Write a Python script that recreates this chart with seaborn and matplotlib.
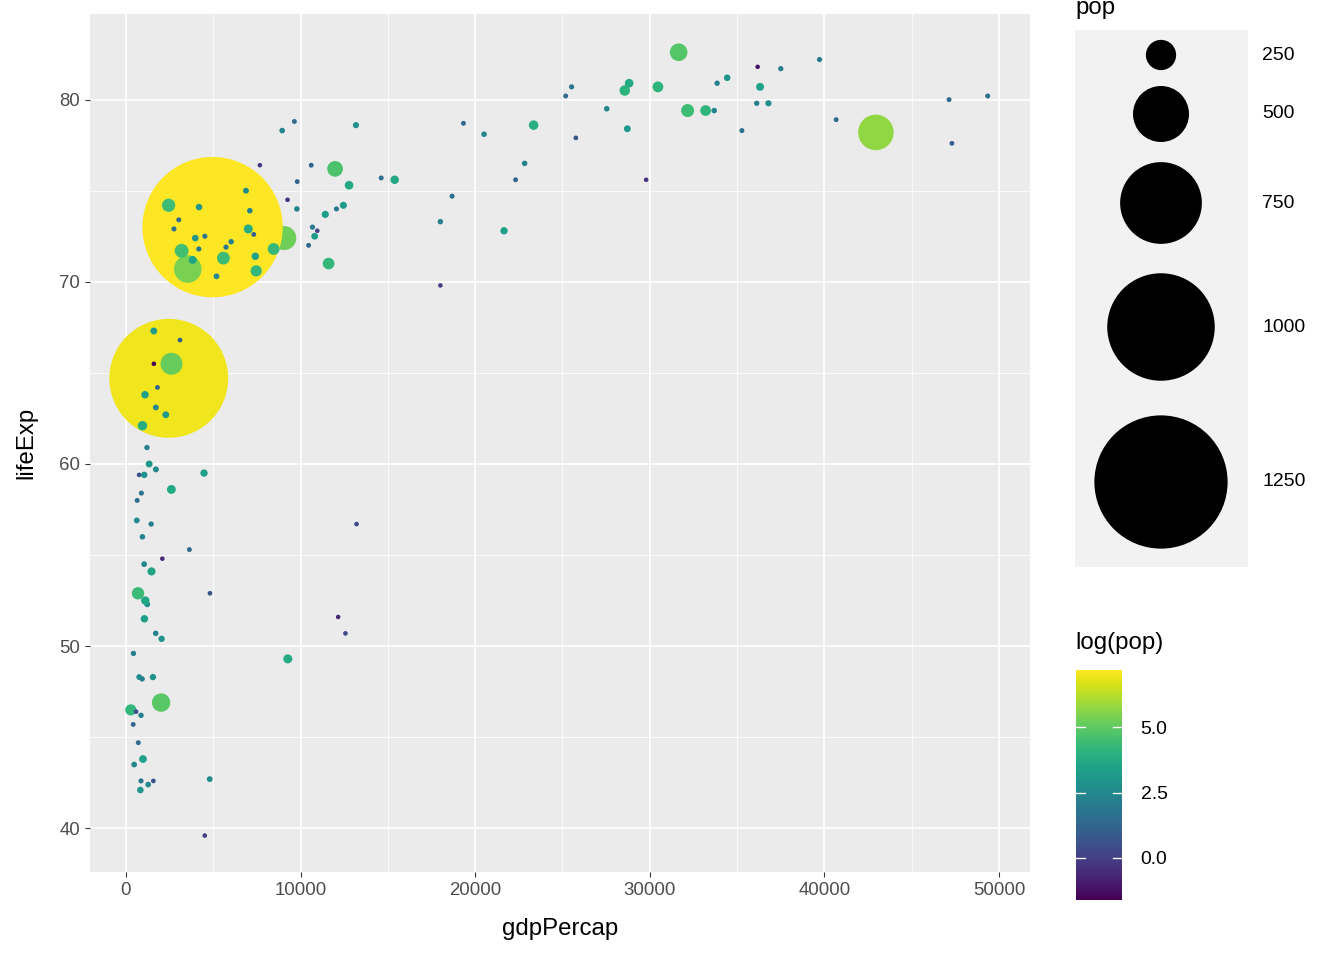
import numpy as np
import matplotlib
matplotlib.use('Agg')
import matplotlib.pyplot as plt
import seaborn as sns

plt.rcParams['font.family'] = ['Liberation Sans', 'DejaVu Sans']

# gapminder 2007: gdpPercap, lifeExp, pop (millions)
gdp = [974.6, 5937, 6223, 4797, 12779, 34435, 36126, 29796, 1391, 33693, 1441, 3822, 7446, 12570, 9066,
       10681, 1217, 430, 1714, 2042, 36319, 706, 1704, 13172, 4959, 7007, 986, 278, 3633, 9645, 1545,
       14619, 8948, 22833, 35278, 2082, 6025, 6873, 5581, 5728, 12154, 641, 691, 33207, 30470, 13206,
       753, 32170, 1328, 27538, 5186, 943, 579, 1202, 3548, 39725, 18009, 36181, 2452, 3541, 11606,
       4471, 40676, 25523, 28570, 7321, 31656, 4519, 1463, 1593, 23348, 47307, 10461, 1569, 415, 12057,
       1044, 759, 12452, 1042, 1803, 10957, 11978, 3096, 9254, 3820, 824, 944, 4811, 1091, 36798, 25185,
       2749, 620, 2014, 49357, 22316, 2606, 9809, 4173, 7409, 3190, 15390, 20510, 19329, 7670, 10808,
       863, 1598, 21655, 1712, 9787, 863, 47143, 18678, 25768, 926, 9270, 28821, 3970, 2602, 4513,
       33860, 37506, 4185, 28718, 1107, 7458, 883, 18009, 7093, 8458, 1056, 33203, 42952, 10611, 11416,
       2442, 3025, 2281, 1271, 470]
life = [43.8, 76.4, 72.3, 42.7, 75.3, 81.2, 79.8, 75.6, 64.1, 79.4, 56.7, 65.6, 74.9, 50.7, 72.4,
        73.0, 52.3, 49.6, 59.7, 50.4, 80.7, 44.7, 50.7, 78.6, 73.0, 72.9, 65.2, 46.5, 55.3, 78.8, 48.3,
        75.7, 78.3, 76.5, 78.3, 54.8, 72.2, 75.0, 71.3, 71.9, 51.6, 58.0, 52.9, 79.3, 80.7, 56.7,
        59.4, 79.4, 60.0, 79.5, 70.3, 56.0, 46.4, 60.9, 70.2, 82.2, 73.3, 81.8, 64.7, 70.7, 71.0,
        59.5, 78.9, 80.7, 80.5, 72.6, 82.6, 72.5, 54.1, 67.3, 78.6, 77.6, 72.0, 42.6, 45.7, 74.0,
        59.4, 48.3, 74.2, 54.5, 64.2, 72.8, 76.2, 66.8, 74.5, 71.2, 42.1, 62.1, 52.9, 63.8, 79.8, 80.2,
        72.9, 56.9, 46.9, 80.2, 75.6, 65.5, 75.5, 71.8, 71.4, 71.7, 75.6, 78.1, 78.7, 76.4, 72.5,
        46.2, 65.5, 72.8, 63.1, 74.0, 42.6, 80.0, 74.7, 77.9, 48.2, 49.3, 80.9, 72.4, 58.6, 39.6,
        80.9, 81.7, 74.1, 78.4, 52.5, 70.6, 58.4, 69.8, 73.9, 71.8, 51.5, 79.4, 78.2, 76.4, 73.7,
        74.2, 73.4, 62.7, 42.4, 43.5]
pop = [31.9, 3.6, 33.3, 12.4, 40.3, 20.4, 8.2, 0.7, 150.4, 10.4, 8.1, 9.1, 4.6, 1.6, 190.0,
       7.3, 14.3, 8.4, 14.1, 17.7, 33.4, 4.4, 10.2, 16.3, 1318.7, 44.2, 0.7, 64.6, 3.8, 4.1, 18.0,
       4.5, 11.4, 10.2, 5.5, 0.5, 9.3, 13.8, 80.3, 6.9, 0.55, 4.9, 76.5, 5.2, 61.1, 1.45,
       1.7, 82.4, 22.9, 10.7, 12.6, 9.9, 1.5, 8.5, 7.5, 6.98, 9.96, 0.3, 1110.4, 223.5, 69.5,
       27.5, 4.1, 6.4, 58.1, 2.8, 127.5, 6.05, 35.6, 23.3, 49.0, 2.5, 3.9, 2.0, 3.2, 6.0,
       19.2, 13.3, 24.8, 12.0, 3.3, 1.25, 108.7, 2.9, 0.68, 33.8, 19.95, 47.8, 2.05, 28.9, 16.6, 4.1,
       5.7, 12.9, 135.0, 4.6, 3.2, 169.3, 3.2, 6.7, 28.7, 91.1, 38.5, 10.6, 3.9, 0.8, 22.3,
       8.9, 0.2, 27.6, 12.3, 10.15, 6.1, 4.55, 5.45, 2.0, 9.1, 44.0, 40.4, 20.4, 42.3, 1.1,
       9.0, 7.55, 19.3, 23.2, 38.1, 65.1, 5.7, 1.06, 10.3, 71.2, 29.2, 60.8, 301.1, 3.4, 26.1,
       85.3, 4.0, 22.2, 11.7, 12.3]
legend_pops = [250, 500, 750, 1000, 1250]
cbar_ticks = [0.0, 2.5, 5.0]

W, H, DPI = 1344, 960, 96
fig = plt.figure(figsize=(W / DPI, H / DPI), dpi=DPI)

def px_axes(x0, y0, x1, y1):
    return fig.add_axes([x0 / W, 1 - y1 / H, (x1 - x0) / W, (y1 - y0) / H])

def size_of(p):
    d_px = 0.103 * np.asarray(p) + 4.5   # radius scale, diameter in px
    return (d_px * 72 / DPI) ** 2

logpop = np.log(pop)
vmin, vmax = np.log(min(pop)), np.log(max(pop))
norm = matplotlib.colors.Normalize(vmin, vmax)
cmap = plt.get_cmap('viridis')

ax = px_axes(90, 14, 1030, 872)
ax.set_facecolor('#EBEBEB')
sns.scatterplot(x=gdp, y=life, hue=logpop, palette='viridis', hue_norm=(vmin, vmax),
                s=size_of(pop), linewidth=0, legend=False, ax=ax, zorder=3)
ax.set_xlim(-2060, 51780)
ax.set_ylim(37.6, 84.7)
ax.set_xticks([0, 10000, 20000, 30000, 40000, 50000])
ax.set_yticks([40, 50, 60, 70, 80])
ax.set_xticks([5000, 15000, 25000, 35000, 45000], minor=True)
ax.set_yticks([45, 55, 65, 75], minor=True)
ax.grid(True, which='major', color='white', lw=1.3, zorder=0)
ax.grid(True, which='minor', color='white', lw=0.6, zorder=0)
ax.set_axisbelow(True)
for s in ax.spines.values():
    s.set_visible(False)
ax.tick_params(which='major', colors='#333333', labelcolor='#4D4D4D', labelsize=14, length=4)
ax.tick_params(which='minor', length=0)
ax.set_xlabel('gdpPercap', fontsize=18, labelpad=14)
ax.set_ylabel('lifeExp', fontsize=18, labelpad=16)

# size legend
lax = px_axes(1075, 30, 1248, 567)
lax.set_facecolor('#F2F2F2')
lax.set_xlim(1075, 1248)
lax.set_ylim(567, 30)
lax.set_xticks([]); lax.set_yticks([])
for s in lax.spines.values():
    s.set_visible(False)
ys = [55, 114, 203, 327, 482]
lax.scatter([1161] * 5, ys, s=size_of(legend_pops), color='black', linewidth=0)
for yy, p in zip(ys, legend_pops):
    fig.text(1262 / W, 1 - yy / H, str(p), fontsize=14.5, va='center', ha='left')
fig.text(1075 / W, 1 - 8 / H, 'pop', fontsize=18, va='center', ha='left')

# colorbar
cax = px_axes(1076, 670, 1122, 900)
cb = fig.colorbar(matplotlib.cm.ScalarMappable(norm=norm, cmap=cmap), cax=cax)
cb.outline.set_visible(False)
cb.set_ticks(cbar_ticks)
cb.set_ticklabels(['0.0', '2.5', '5.0'])
cax.tick_params(length=0, labelsize=14.5, pad=14)
for t in cbar_ticks:
    cax.plot([0, 0.2], [t, t], color='white', lw=1, transform=cax.get_yaxis_transform())
    cax.plot([0.8, 1], [t, t], color='white', lw=1, transform=cax.get_yaxis_transform())
fig.text(1075 / W, 1 - 643 / H, 'log(pop)', fontsize=18, va='center', ha='left')

fig.savefig('out.png', dpi=DPI)
